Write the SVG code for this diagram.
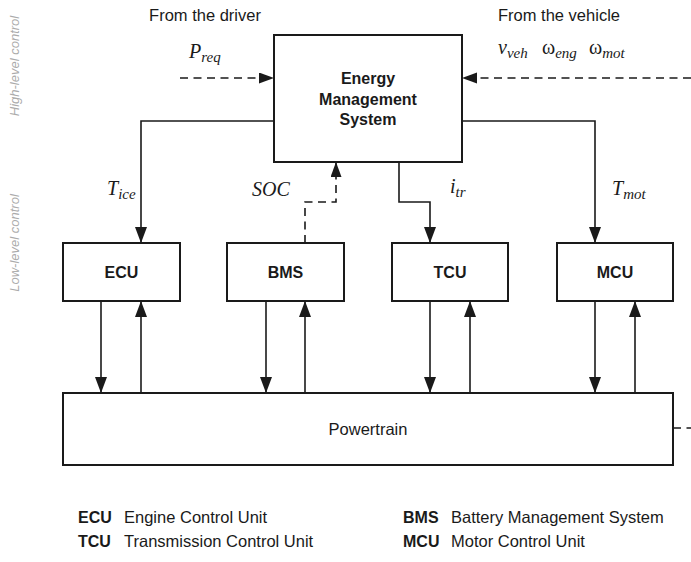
<svg xmlns="http://www.w3.org/2000/svg" width="691" height="562" viewBox="0 0 691 562">
<defs>
<style>
.box{fill:#fff;stroke:#1a1a1a;stroke-width:2}
.lbl{font-family:"Liberation Sans",Arial,sans-serif;font-size:16.5px;fill:#1a1a1a}
.b{font-weight:bold;font-size:16px}
.side{font-family:"Liberation Sans",Arial,sans-serif;font-size:13px;font-style:italic;fill:#ababab}
.m{font-family:"Liberation Serif","Times New Roman",serif;font-size:20px;font-style:italic;fill:#1a1a1a}
.up{font-style:normal}
.sub{font-size:15px}
.w{fill:none;stroke:#1a1a1a;stroke-width:1.6}
.d{stroke-dasharray:8 5.5}
</style>
<marker id="ah" markerUnits="userSpaceOnUse" markerWidth="17" markerHeight="13" refX="16" refY="6" orient="auto">
<path d="M0,0 L16,6 L0,12 z" fill="#1a1a1a"/>
</marker>
<marker id="ahd" markerUnits="userSpaceOnUse" markerWidth="16" markerHeight="12" refX="15" refY="5.5" orient="auto">
<path d="M0,0 L15,5.5 L0,11 z" fill="#1a1a1a"/>
</marker>
</defs>
<rect width="691" height="562" fill="#fff"/>

<text class="side" transform="translate(19,66) rotate(-90)" text-anchor="middle">High-level control</text>
<text class="side" transform="translate(19,243) rotate(-90)" text-anchor="middle">Low-level control</text>

<text class="lbl" x="205" y="21" text-anchor="middle">From the driver</text>
<text class="lbl" x="559" y="21" text-anchor="middle">From the vehicle</text>

<g id="connectors">
<path class="w d" d="M180,78 H274" marker-end="url(#ahd)"/>
<path class="w d" d="M691,78 H462" marker-end="url(#ahd)"/>
<path class="w" d="M274,121 H141 V243" marker-end="url(#ah)"/>
<path class="w d" d="M305,243 V202 H336 V162" marker-end="url(#ahd)"/>
<path class="w" d="M399,162 V202 H430 V243" marker-end="url(#ah)"/>
<path class="w" d="M462,121 H595 V243" marker-end="url(#ah)"/>
<path class="w" d="M101,301 V393" marker-end="url(#ah)"/>
<path class="w" d="M141,393 V301" marker-end="url(#ah)"/>
<path class="w" d="M266,301 V393" marker-end="url(#ah)"/>
<path class="w" d="M305,393 V301" marker-end="url(#ah)"/>
<path class="w" d="M430,301 V393" marker-end="url(#ah)"/>
<path class="w" d="M470,393 V301" marker-end="url(#ah)"/>
<path class="w" d="M595,301 V393" marker-end="url(#ah)"/>
<path class="w" d="M635,393 V301" marker-end="url(#ah)"/>
<path class="w d" d="M673,428 H691"/>
</g>

<text class="m" x="189" y="58">P<tspan class="sub" dy="4">req</tspan></text>
<text class="m" x="498" y="54">v<tspan class="sub" dy="4">veh</tspan></text>
<text class="m" x="542" y="54"><tspan class="up">ω</tspan><tspan class="sub" dy="4">eng</tspan></text>
<text class="m" x="589" y="54"><tspan class="up">ω</tspan><tspan class="sub" dy="4">mot</tspan></text>
<text class="m" x="107" y="195">T<tspan class="sub" dy="4">ice</tspan></text>
<text class="m" x="252" y="196">SOC</text>
<text class="m" x="450" y="193">i<tspan class="sub" dy="4">tr</tspan></text>
<text class="m" x="612" y="195">T<tspan class="sub" dy="4">mot</tspan></text>

<g id="ems">
<rect class="box" x="274" y="35" width="188" height="127"/>
<text class="lbl b" x="368" text-anchor="middle"><tspan x="368" y="84">Energy</tspan><tspan x="368" y="104.5">Management</tspan><tspan x="368" y="125">System</tspan></text>
</g>
<g id="ecu">
<rect class="box" x="63" y="243" width="117" height="58"/>
<text class="lbl b" x="121.5" y="277.5" text-anchor="middle">ECU</text>
</g>
<g id="bms">
<rect class="box" x="227" y="243" width="117" height="58"/>
<text class="lbl b" x="285.5" y="277.5" text-anchor="middle">BMS</text>
</g>
<g id="tcu">
<rect class="box" x="392" y="243" width="116" height="58"/>
<text class="lbl b" x="450" y="277.5" text-anchor="middle">TCU</text>
</g>
<g id="mcu">
<rect class="box" x="557" y="243" width="116" height="58"/>
<text class="lbl b" x="615" y="277.5" text-anchor="middle">MCU</text>
</g>
<g id="powertrain">
<rect class="box" x="63" y="393" width="610" height="72"/>
<text class="lbl" x="368" y="435" text-anchor="middle">Powertrain</text>
</g>

<g id="legend">
<text class="lbl" x="78" y="523"><tspan class="b">ECU</tspan><tspan x="124">Engine Control Unit</tspan></text>
<text class="lbl" x="78" y="547"><tspan class="b">TCU</tspan><tspan x="124">Transmission Control Unit</tspan></text>
<text class="lbl" x="403" y="523"><tspan class="b">BMS</tspan><tspan x="451">Battery Management System</tspan></text>
<text class="lbl" x="403" y="547"><tspan class="b">MCU</tspan><tspan x="451">Motor Control Unit</tspan></text>
</g>
</svg>
